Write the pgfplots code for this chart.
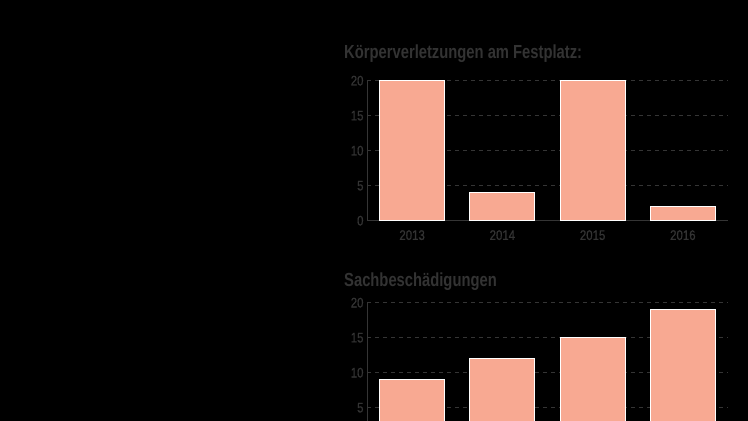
\documentclass[border=0pt]{standalone}
\usepackage{fontspec}
\setmainfont{Liberation Sans}[FakeStretch=0.82]
\newfontfamily\titlefont{Liberation Sans}[FakeStretch=0.78]
\newfontfamily\tickfont{Liberation Sans}[FakeStretch=0.82, FakeBold=0.6]
\usepackage{pgfplots}
\pgfplotsset{compat=1.18}

\definecolor{txt}{HTML}{333333}
\definecolor{grd}{HTML}{353535}
\definecolor{barfill}{HTML}{F8A992}

\pgfplotsset{
    festbars/.style={
        scale only axis,
        anchor=south west,
        width=361bp,
        height=140bp,
        xmin=-0.5, xmax=3.5,
        ymin=0, ymax=20,
        enlargelimits=false,
        ybar,
        bar width=65bp,
        xtick={0,1,2,3},
        xticklabels={2013,2014,2015,2016},
        ytick={0,5,10,15,20},
        axis x line*=bottom,
        axis y line*=left,
        axis line style={grd, line width=0.8bp},
        ymajorgrids,
        grid style={grd, line width=0.8bp, dash pattern=on 4bp off 4bp},
        major tick length=0pt,
        /pgf/number format/assume math mode=true,
        tick label style={font=\tickfont\fontsize{14}{14}\selectfont, text=txt},
        xticklabel style={yshift=-6bp},
        clip=false,
    },
}

\begin{document}
\begin{tikzpicture}
    \path[use as bounding box, fill=black] (0,0) rectangle (748bp,421bp);
    \clip (0,0) rectangle (748bp,421bp);

    \node[anchor=base west, text=txt, inner sep=0pt,
        font=\titlefont\bfseries\fontsize{19}{19}\selectfont]
        at (344bp,362bp) {Körperverletzungen am Festplatz:};

    \begin{axis}[festbars, at={(367bp,200.3bp)}]
        \addplot[fill=barfill, draw=white, line width=0.8bp]
            coordinates {(0,20) (1,4) (2,20) (3,2)};
    \end{axis}

    \node[anchor=base west, text=txt, inner sep=0pt,
        font=\titlefont\bfseries\fontsize{19}{19}\selectfont]
        at (344bp,134bp) {Sachbeschädigungen};

    % 0-Linie und Jahresbeschriftungen liegen hier unterhalb des Bildrands
    \begin{axis}[festbars, at={(367bp,-21.7bp)}, xticklabels={},
        ytick={5,10,15,20}]
        \addplot[fill=barfill, draw=white, line width=0.8bp]
            coordinates {(0,9) (1,12) (2,15) (3,19)};
    \end{axis}
\end{tikzpicture}
\end{document}
